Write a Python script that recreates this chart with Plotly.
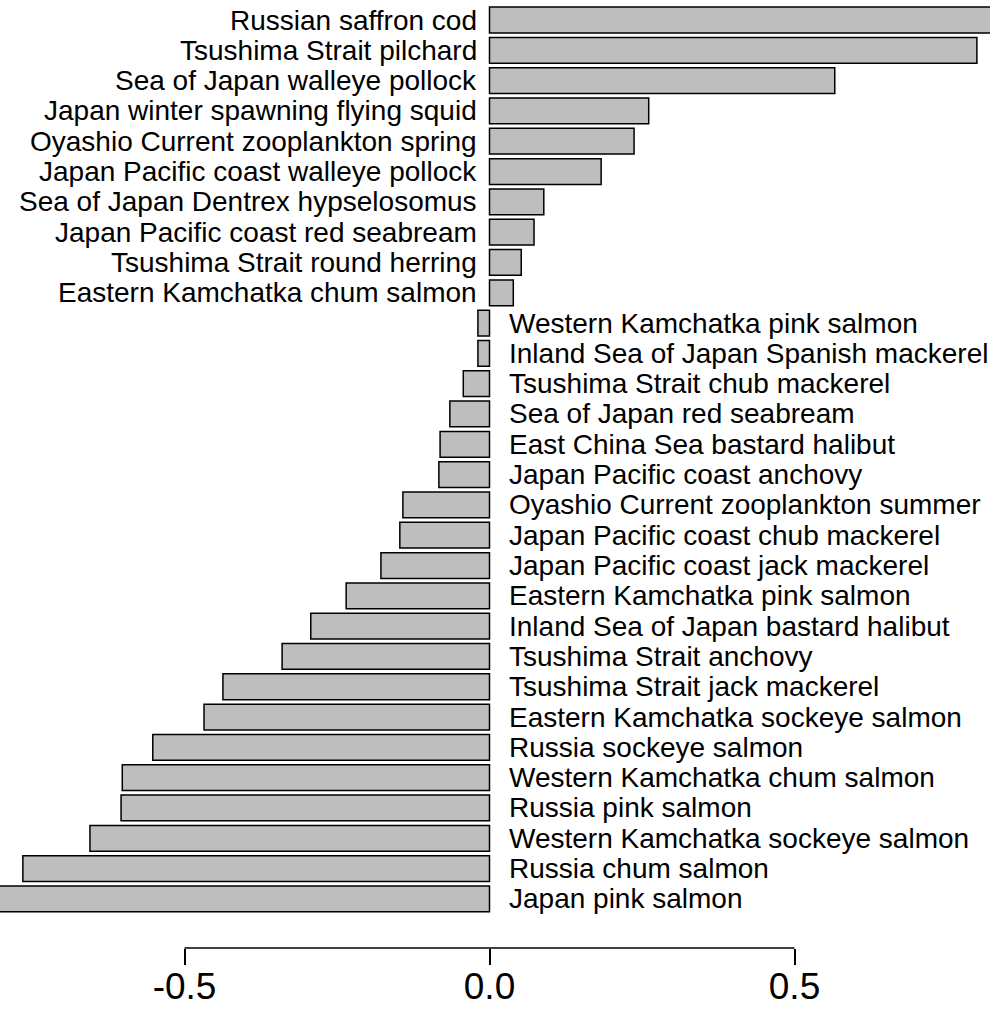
import plotly.graph_objects as go

categories = [
    "Russian saffron cod", "Tsushima Strait pilchard", "Sea of Japan walleye pollock",
    "Japan winter spawning flying squid", "Oyashio Current zooplankton spring",
    "Japan Pacific coast walleye pollock", "Sea of Japan Dentrex hypselosomus",
    "Japan Pacific coast red seabream", "Tsushima Strait round herring",
    "Eastern Kamchatka chum salmon", "Western Kamchatka pink salmon",
    "Inland Sea of Japan Spanish mackerel", "Tsushima Strait chub mackerel",
    "Sea of Japan red seabream", "East China Sea bastard halibut",
    "Japan Pacific coast anchovy", "Oyashio Current zooplankton summer",
    "Japan Pacific coast chub mackerel", "Japan Pacific coast jack mackerel",
    "Eastern Kamchatka pink salmon", "Inland Sea of Japan bastard halibut",
    "Tsushima Strait anchovy", "Tsushima Strait jack mackerel",
    "Eastern Kamchatka sockeye salmon", "Russia sockeye salmon",
    "Western Kamchatka chum salmon", "Russia pink salmon",
    "Western Kamchatka sockeye salmon", "Russia chum salmon", "Japan pink salmon",
]
values = [
    0.86, 0.799, 0.566, 0.261, 0.237, 0.183, 0.089, 0.073, 0.052, 0.039,
    -0.019, -0.019, -0.043, -0.065, -0.081, -0.083, -0.142, -0.147, -0.178,
    -0.235, -0.293, -0.340, -0.437, -0.468, -0.552, -0.602, -0.604, -0.655,
    -0.765, -0.85,
]
tick_values = [-0.5, 0.0, 0.5]
tick_labels = ["-0.5", "0.0", "0.5"]

FONT = "Liberation Sans, Arial, sans-serif"

fig = go.Figure()
fig.add_trace(go.Bar(
    x=values, y=categories, orientation="h",
    marker=dict(color="#BEBEBE", line=dict(color="black", width=1.5)),
    hoverinfo="x+y",
))

for cat, v in zip(categories, values):
    if v >= 0:
        fig.add_annotation(x=0, y=cat, text=cat, showarrow=False, xanchor="right",
                           yanchor="middle", xshift=-11,
                           font=dict(family=FONT, size=28, color="black"))
    else:
        fig.add_annotation(x=0, y=cat, text=cat, showarrow=False, xanchor="left",
                           yanchor="middle", xshift=17,
                           font=dict(family=FONT, size=28, color="black"))

fig.add_shape(type="line", xref="x", yref="paper",
              x0=min(tick_values), x1=max(tick_values), y0=0, y1=0,
              line=dict(color="black", width=1.5))

fig.update_layout(
    width=990, height=1012,
    margin=dict(l=0, r=0, t=0, b=64, autoexpand=False),
    plot_bgcolor="white", paper_bgcolor="white",
    bargap=0.15, showlegend=False,
    xaxis=dict(range=[-489.5 / 610, 500.5 / 610], tickvals=tick_values,
               ticktext=tick_labels, ticks="outside", ticklen=16, tickwidth=1.5,
               tickcolor="black", showgrid=False, zeroline=False, showline=False,
               automargin=False, ticklabelstandoff=-10,
               tickfont=dict(family=FONT, size=37, color="black")),
    yaxis=dict(range=[30.62, -0.66], showticklabels=False, showgrid=False,
               zeroline=False, showline=False, ticks="", automargin=False),
)

fig.write_html("out.html", config={"displayModeBar": False},
               post_script="document.body.style.margin='0px';document.body.style.overflow='hidden';")
